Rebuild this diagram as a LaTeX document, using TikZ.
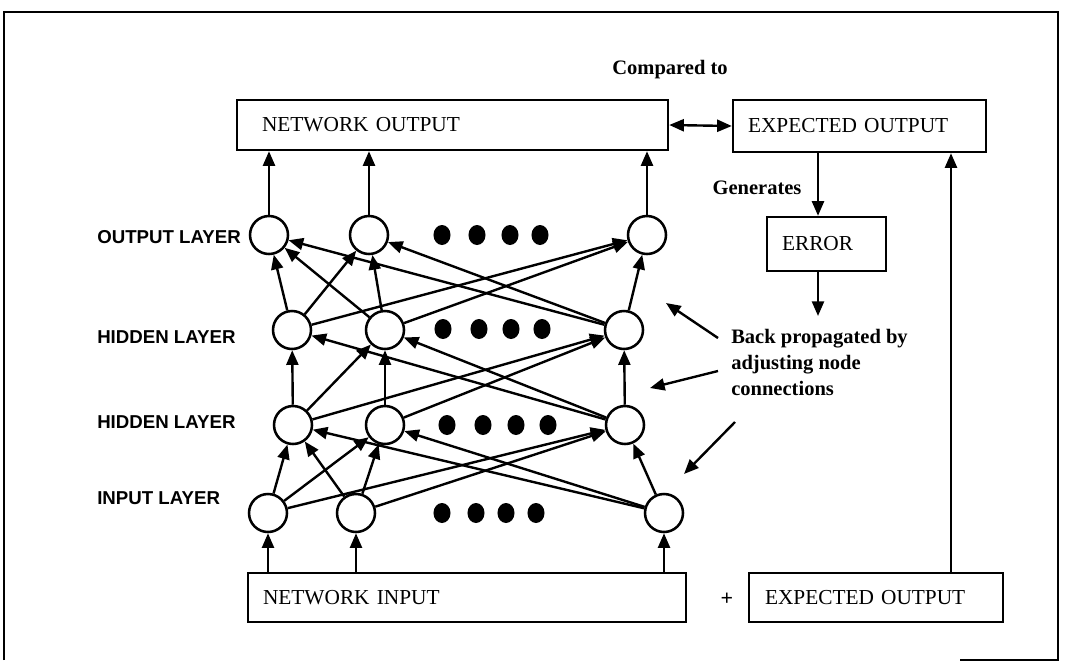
\documentclass[tikz,border=0pt]{standalone}
\usepackage{fontspec}
\setmainfont{Liberation Serif}
\newfontfamily\lsans{Liberation Sans}
\usetikzlibrary{arrows.meta}
\tikzset{
  neuron/.style={circle, draw, line width=1.9pt, minimum size=28.5pt, inner sep=0pt, fill=white},
  conn/.style={line width=1.8pt, -{Triangle[length=11pt,width=9pt]}},
  dconn/.style={line width=1.8pt, {Triangle[length=11pt,width=9pt]}-{Triangle[length=11pt,width=9pt]}},
  box/.style={draw, line width=1.8pt, align=left, inner ysep=0pt, font=\fontsize{16}{19}\selectfont},
  layer/.style={font=\lsans\bfseries\fontsize{14}{16}\selectfont, anchor=west, inner sep=0pt},
  note/.style={font=\bfseries\fontsize{15.4}{19.5}\selectfont, inner sep=0pt},
  frame/.style={line width=1pt}
}
\begin{document}
\begin{tikzpicture}[x=0.75pt, y=-0.75pt]
\useasboundingbox (0,0) rectangle (1065,669);
\fill[white] (0,0) rectangle (1065,669);
% frame
\draw[frame] (4,660) -- (4,12) -- (1058,12) -- (1058,660) -- (960,660);

% boxes
\node[box, text width=285.75pt, inner xsep=18.75pt, minimum height=37.5pt] (nout) at (452.5,125) {NETWORK OUTPUT};
\node[box, text width=167.25pt, inner xsep=11.25pt, minimum height=39pt] (eo) at (859.5,126) {EXPECTED OUTPUT};
\node[box, text width=66.75pt, inner xsep=11.25pt, minimum height=40.5pt] (err) at (826.5,244) {ERROR};
\node[box, text width=306pt, inner xsep=11.25pt, minimum height=36.75pt] (nin) at (467,597.5) {NETWORK INPUT};
\node[box, text width=166.5pt, inner xsep=12pt, minimum height=36.75pt] (eo2) at (876,597.5) {EXPECTED OUTPUT};
\node[font=\bfseries\fontsize{16.5}{19}\selectfont] (plus) at (727,599) {+};

% labels
\node[note] (cmp) at (670,70) {Compared to};
\node[note] (gen) at (757,188) {Generates};
\node[note, anchor=north west, align=left] (bp) at (731,329) {Back propagated by\\adjusting node\\connections};

\node[layer] (lo) at (97,237) {OUTPUT LAYER};
\node[layer] (lh1) at (97,337) {HIDDEN LAYER};
\node[layer] (lh2) at (97,422) {HIDDEN LAYER};
\node[layer] (li) at (97,498) {INPUT LAYER};

% neurons
\node[neuron] (O1) at (269,235) {};
\node[neuron] (O2) at (369,235) {};
\node[neuron] (O3) at (647,235) {};
\node[neuron] (H11) at (292,330) {};
\node[neuron] (H12) at (385,330) {};
\node[neuron] (H13) at (624,330) {};
\node[neuron] (H21) at (293,425) {};
\node[neuron] (H22) at (385,425) {};
\node[neuron] (H23) at (625,425) {};
\node[neuron] (I1) at (268,513) {};
\node[neuron] (I2) at (356,513) {};
\node[neuron] (I3) at (664,513) {};

% dots
\foreach \x in {442,477,510,540} \fill (\x,235) ellipse (6.4pt and 7.5pt);
\foreach \x in {443,479,511,542} \fill (\x,329) ellipse (6.4pt and 7.5pt);
\foreach \x in {447,483,516,548} \fill (\x,425) ellipse (6.4pt and 7.5pt);
\foreach \x in {442,476,506,536} \fill (\x,513) ellipse (6.4pt and 7.5pt);

% input arrows
\foreach \n in {I1,I2,I3} \draw[conn] (nin.north -| \n) -- (\n);
% output arrows
\foreach \n in {O1,O2,O3} \draw[conn] (\n) -- (nout.south -| \n);

% input -> hidden2
\foreach \a in {I1,I2,I3} \foreach \b in {H21,H22,H23} \draw[conn] (\a) -- (\b);
% hidden2 -> hidden1
\foreach \a/\b in {H21/H11,H21/H12,H21/H13,H22/H12,H22/H13,H23/H11,H23/H12,H23/H13} \draw[conn] (\a) -- (\b);
% hidden1 -> output
\foreach \a in {H11,H12,H13} \foreach \b in {O1,O2,O3} \draw[conn] (\a) -- (\b);

% right side
\draw[dconn] (nout.east) -- (eo.west);
\coordinate (ex) at (818,0);
\draw[conn] (eo.south -| ex) -- (err.north -| ex);
\coordinate (errend) at (818,316);
\draw[conn] (err.south -| ex) -- (errend);
\coordinate (fx) at (951,0);
\draw[conn] (eo2.north -| fx) -- (eo.south -| fx);

% back-propagation arrows
\coordinate (b1s) at (718,338); \coordinate (b1e) at (666,303);
\coordinate (b2s) at (718,371); \coordinate (b2e) at (650,388);
\coordinate (b3s) at (735,422); \coordinate (b3e) at (684,474);
\draw[conn] (b1s) -- (b1e);
\draw[conn] (b2s) -- (b2e);
\draw[conn] (b3s) -- (b3e);
\end{tikzpicture}
\end{document}
